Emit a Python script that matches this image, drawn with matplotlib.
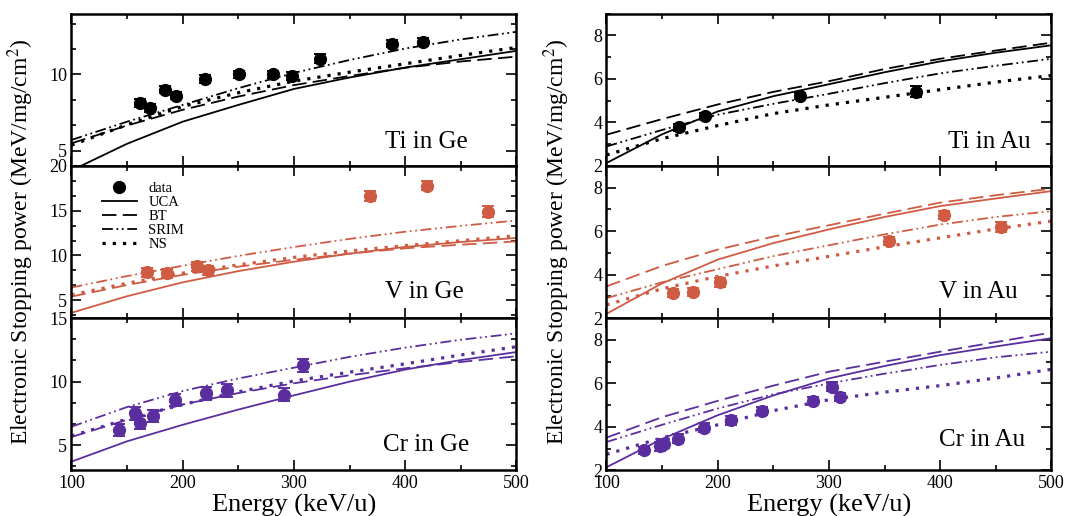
import matplotlib
matplotlib.use('Agg')
import matplotlib.pyplot as plt
from matplotlib.lines import Line2D
from matplotlib.ticker import MultipleLocator, AutoMinorLocator

plt.rcParams['font.family'] = ['Liberation Serif', 'DejaVu Serif']
plt.rcParams['mathtext.fontset'] = 'stix'

# energy grid of the model curves (keV/u)
energy = [100, 150, 200, 250, 300, 350, 400, 450, 500]

# ---- Ti in Ge
ti_ge_uca = [3.7, 5.45, 6.9, 8.0, 9.05, 9.8, 10.45, 11.0, 11.55]
ti_ge_bt = [5.48, 6.65, 7.68, 8.55, 9.3, 9.9, 10.44, 10.85, 11.17]
ti_ge_srim = [5.7, 6.9, 8.0, 9.1, 10.1, 10.95, 11.7, 12.3, 12.8]
ti_ge_ns = [5.36, 6.7, 7.9, 8.8, 9.56, 10.15, 10.7, 11.25, 11.77]
ti_ge_e = [162, 171, 184, 194, 220, 251, 281, 298, 323, 388, 416]
ti_ge_s = [8.13, 7.8, 9.01, 8.61, 9.72, 10.0, 10.0, 9.89, 11.04, 12.03, 12.13]
ti_ge_err = [0.25, 0.25, 0.25, 0.25, 0.25, 0.25, 0.25, 0.25, 0.3, 0.25, 0.25]

# ---- V in Ge
v_ge_uca = [3.6, 5.45, 7.0, 8.25, 9.3, 10.2, 10.95, 11.5, 11.95]
v_ge_bt = [5.41, 6.7, 7.84, 8.75, 9.52, 10.2, 10.8, 11.2, 11.57]
v_ge_srim = [6.42, 7.7, 8.85, 9.95, 10.94, 11.85, 12.65, 13.3, 13.9]
v_ge_ns = [5.6, 6.9, 8.03, 8.95, 9.78, 10.5, 11.1, 11.65, 12.2]
v_ge_e = [168, 186, 213, 223, 368, 420, 474]
v_ge_s = [8.14, 8.03, 8.77, 8.32, 16.6, 17.8, 14.9]
v_ge_err = [0.5, 0.5, 0.55, 0.5, 0.55, 0.55, 0.6]

# ---- Cr in Ge
cr_ge_uca = [3.7, 5.3, 6.6, 7.8, 8.92, 10.0, 10.95, 11.7, 12.33]
cr_ge_bt = [5.64, 7.0, 8.2, 9.1, 9.87, 10.5, 11.05, 11.55, 12.0]
cr_ge_srim = [6.45, 8.0, 9.26, 10.25, 11.1, 11.95, 12.68, 13.3, 13.8]
cr_ge_ns = [5.72, 7.05, 8.2, 9.2, 10.05, 10.75, 11.4, 12.1, 12.75]
cr_ge_e = [143, 157, 162, 173, 193, 221, 240, 291, 308]
cr_ge_s = [6.19, 7.5, 6.77, 7.29, 8.55, 9.08, 9.31, 8.97, 11.28]
cr_ge_err = [0.5, 0.5, 0.5, 0.5, 0.5, 0.5, 0.5, 0.5, 0.52]

# ---- Ti in Au
ti_au_uca = [2.13, 3.45, 4.5, 5.2, 5.75, 6.3, 6.8, 7.2, 7.54]
ti_au_bt = [3.43, 4.15, 4.82, 5.4, 5.89, 6.45, 6.92, 7.3, 7.66]
ti_au_srim = [2.89, 3.65, 4.35, 4.85, 5.31, 5.8, 6.25, 6.6, 6.92]
ti_au_ns = [2.5, 3.25, 3.85, 4.4, 4.8, 5.15, 5.5, 5.85, 6.15]
ti_au_e = [165, 189, 274, 378]
ti_au_s = [3.77, 4.28, 5.2, 5.4]
ti_au_err = [0.15, 0.15, 0.15, 0.25]

# ---- V in Au
v_au_uca = [2.2, 3.6, 4.69, 5.45, 6.08, 6.65, 7.15, 7.5, 7.84]
v_au_bt = [3.46, 4.4, 5.15, 5.75, 6.27, 6.8, 7.31, 7.65, 7.95]
v_au_srim = [2.92, 3.65, 4.25, 4.85, 5.35, 5.85, 6.3, 6.65, 6.92]
v_au_ns = [2.61, 3.35, 3.92, 4.4, 4.84, 5.28, 5.69, 6.1, 6.46]
v_au_e = [160, 178, 202, 354, 403, 455]
v_au_s = [3.15, 3.2, 3.64, 5.54, 6.74, 6.2]
v_au_err = [0.18, 0.18, 0.2, 0.18, 0.18, 0.22]

# ---- Cr in Au
cr_au_uca = [2.15, 3.45, 4.54, 5.45, 6.23, 6.8, 7.3, 7.7, 8.08]
cr_au_bt = [3.51, 4.45, 5.2, 5.9, 6.54, 7.0, 7.46, 7.9, 8.34]
cr_au_srim = [3.31, 4.1, 4.85, 5.5, 6.0, 6.45, 6.85, 7.2, 7.46]
cr_au_ns = [2.74, 3.5, 4.1, 4.75, 5.25, 5.6, 5.9, 6.25, 6.65]
cr_au_e = [134, 148, 152, 164, 188, 212, 240, 286, 303, 310]
cr_au_s = [2.92, 3.11, 3.23, 3.46, 3.97, 4.31, 4.74, 5.2, 5.85, 5.38]
cr_au_err = [0.15, 0.2, 0.2, 0.2, 0.2, 0.2, 0.2, 0.2, 0.22, 0.2]

black = '#000000'
red = '#cf5b42'
purple = '#5a2e9e'

styles = {
    'UCA': dict(ls='-', lw=1.3),
    'BT': dict(ls=(0, (8, 3.5)), lw=1.3),
    'SRIM': dict(ls=(0, (6, 2, 1, 2, 1, 2)), lw=1.3),
    'NS': dict(ls=(0, (1, 2.2)), lw=2.3),
}

panels = [
    # col, row, label, colour, ylim, curves, points, label position
    (0, 0, 'Ti in Ge', black, (4, 14), [ti_ge_uca, ti_ge_bt, ti_ge_srim, ti_ge_ns],
     (ti_ge_e, ti_ge_s, ti_ge_err), (0.797, 0.158)),
    (0, 1, 'V in Ge', red, (3, 20), [v_ge_uca, v_ge_bt, v_ge_srim, v_ge_ns],
     (v_ge_e, v_ge_s, v_ge_err), (0.792, 0.174)),
    (0, 2, 'Cr in Ge', purple, (3, 15), [cr_ge_uca, cr_ge_bt, cr_ge_srim, cr_ge_ns],
     (cr_ge_e, cr_ge_s, cr_ge_err), (0.798, 0.167)),
    (1, 0, 'Ti in Au', black, (2, 9), [ti_au_uca, ti_au_bt, ti_au_srim, ti_au_ns],
     (ti_au_e, ti_au_s, ti_au_err), (0.86, 0.158)),
    (1, 1, 'V in Au', red, (2, 9), [v_au_uca, v_au_bt, v_au_srim, v_au_ns],
     (v_au_e, v_au_s, v_au_err), (0.835, 0.174)),
    (1, 2, 'Cr in Au', purple, (2, 9), [cr_au_uca, cr_au_bt, cr_au_srim, cr_au_ns],
     (cr_au_e, cr_au_s, cr_au_err), (0.844, 0.2)),
]

fig = plt.figure(figsize=(10.67, 5.16), dpi=100)

lefts = [0.067, 0.5684]
width = 0.417
bottom = 0.0882
top = 0.9738
h = (top - bottom) / 3

axes = {}
for col, row, name, c, ylim, curves, pts, txt in panels:
    ax = fig.add_axes([lefts[col], top - (row + 1) * h, width, h])
    axes[(col, row)] = ax
    for key, y in zip(['UCA', 'BT', 'SRIM', 'NS'], curves):
        st = styles[key]
        ax.plot(energy, y, color=c, linestyle=st['ls'], lw=st['lw'],
                dash_capstyle='butt', solid_joinstyle='round', zorder=2)
    ax.errorbar(pts[0], pts[1], yerr=pts[2], fmt='o', color=c, ms=8.5,
                elinewidth=1.4, capsize=4, capthick=1.4, zorder=3)
    ax.set_xlim(100, 500)
    ax.set_ylim(*ylim)
    ax.xaxis.set_major_locator(MultipleLocator(100))
    ax.xaxis.set_minor_locator(MultipleLocator(50))
    if col == 0:
        ax.yaxis.set_major_locator(MultipleLocator(5))
        ax.yaxis.set_minor_locator(AutoMinorLocator(3))
    else:
        ax.yaxis.set_major_locator(MultipleLocator(2))
        ax.yaxis.set_minor_locator(AutoMinorLocator(2))
    ax.tick_params(which='both', direction='in', top=True, right=True,
                   labelsize=13, width=1.2, pad=3)
    ax.tick_params(which='major', length=7)
    ax.tick_params(which='minor', length=3.5)
    if row < 2:
        ax.tick_params(labelbottom=False)
    for sp in ax.spines.values():
        sp.set_linewidth(1.8)
    ax.text(txt[0], txt[1], name, transform=ax.transAxes, fontsize=18,
            ha='center', va='center')

# legend in the V in Ge panel
handles = [Line2D([], [], color='k', marker='o', ls='none', ms=8.5)]
for key in ['UCA', 'BT', 'SRIM', 'NS']:
    st = styles[key]
    handles.append(Line2D([], [], color='k', linestyle=st['ls'], lw=st['lw'],
                          dash_capstyle='butt'))
axes[(0, 1)].legend(handles, ['data', 'UCA', 'BT', 'SRIM', 'NS'],
                    loc='upper left', bbox_to_anchor=(0.045, 0.96),
                    frameon=False, fontsize=10.5, handlelength=2.4,
                    labelspacing=0.05, handletextpad=0.8, borderpad=0.2)

ylab = 'Electronic Stopping power (MeV/mg/cm$^2$)'
yc = (top + bottom) / 2
fig.text(21 / 1067, yc, ylab, rotation=90, ha='center', va='center', fontsize=17)
fig.text(557 / 1067, yc, ylab, rotation=90, ha='center', va='center', fontsize=17)
fig.text(lefts[0] + width / 2, 0.008, 'Energy (keV/u)', ha='center',
         va='baseline', fontsize=19)
fig.text(lefts[1] + width / 2, 0.008, 'Energy (keV/u)', ha='center',
         va='baseline', fontsize=19)

fig.savefig('out.png', dpi=100)
